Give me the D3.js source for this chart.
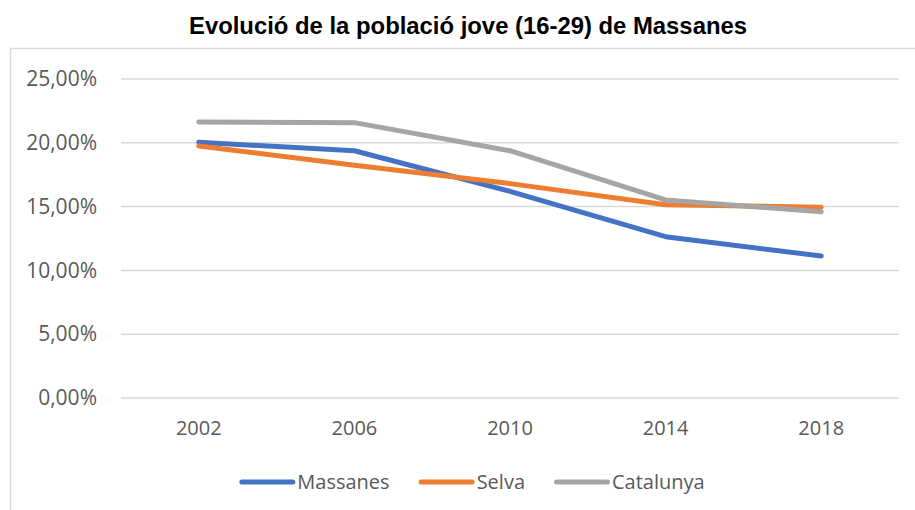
<!DOCTYPE html>
<meta charset="utf-8">
<style>
  body { margin: 0; background: #fff; }
  text { font-family: "Open Sans", "Liberation Sans", sans-serif; fill: #595959; }
</style>
<svg width="915" height="510"></svg>
<script src="https://cdn.jsdelivr.net/npm/d3@7"></script>
<script>

// data
var years = ["2002", "2006", "2010", "2014", "2018"];
var massanes = [20.04, 19.38, 16.2, 12.64, 11.13];
var selva = [19.75, 18.24, 16.8, 15.14, 14.95];
var catalunya = [21.63, 21.58, 19.38, 15.52, 14.6];
var yTicks = [0, 5, 10, 15, 20, 25];
var seriesNames = ["Massanes", "Selva", "Catalunya"];
var colors = ["#4472C4", "#ED7D31", "#A5A5A5"];

var series = [massanes, selva, catalunya].map(function(v, i) {
  return { name: seriesNames[i], values: v, color: colors[i] };
});

var svg = d3.select("svg"), width = +svg.attr("width"), height = +svg.attr("height");

// outer chart frame (runs off the right/bottom edge)
svg.append("rect")
  .attr("x", 10.5).attr("y", 48.5)
  .attr("width", 925).attr("height", 480)
  .attr("fill", "none").attr("stroke", "#d9d9d9").attr("stroke-width", 1.5);

svg.append("text")
  .attr("x", 468).attr("y", 34)
  .attr("text-anchor", "middle")
  .attr("textLength", 558).attr("lengthAdjust", "spacingAndGlyphs")
  .style("font-family", "'Liberation Sans', Arial, sans-serif")
  .style("font-weight", "bold").style("font-size", "24px").style("fill", "#000")
  .text("Evolució de la població jove (16-29) de Massanes");

var x = d3.scaleBand().domain(years).range([121, 899]);
var y = d3.scaleLinear().domain([0, 25]).range([398, 79]);

// gridlines
svg.append("g")
  .selectAll("line")
  .data(yTicks)
  .enter().append("line")
    .attr("x1", x.range()[0]).attr("x2", x.range()[1])
    .attr("y1", function(d) { return y(d); }).attr("y2", function(d) { return y(d); })
    .attr("stroke", "#d9d9d9").attr("stroke-width", 1.5);

var fmt = function(d) { return d.toFixed(2).replace(".", ",") + "%"; };

var yAxis = svg.append("g")
  .attr("transform", "translate(101,0)")
  .call(d3.axisLeft(y).tickValues(yTicks).tickSize(0).tickPadding(4).tickFormat(fmt));
yAxis.select(".domain").remove();
yAxis.selectAll("text").style("font-size", "21px").style("fill", "#595959");

var xAxis = svg.append("g")
  .attr("transform", "translate(0,417)")
  .call(d3.axisBottom(x).tickSize(0).tickPadding(4));
xAxis.select(".domain").remove();
xAxis.selectAll("text").style("font-size", "20px").style("fill", "#595959");

var line = d3.line()
  .x(function(d, i) { return x(years[i]) + x.bandwidth() / 2; })
  .y(function(d) { return y(d); });

svg.append("g")
  .selectAll("path")
  .data(series)
  .enter().append("path")
    .attr("d", function(d) { return line(d.values); })
    .attr("fill", "none")
    .attr("stroke", function(d) { return d.color; })
    .attr("stroke-width", 5)
    .attr("stroke-linecap", "round")
    .attr("stroke-linejoin", "round");

// legend, centred under the frame
var legend = svg.append("g");
var lx = 0;
series.forEach(function(s, i) {
  var g = legend.append("g").attr("transform", "translate(" + lx + ",0)");
  g.append("line").attr("x1", 2.5).attr("x2", 53.5).attr("y1", 0).attr("y2", 0)
    .attr("stroke", s.color).attr("stroke-width", 5).attr("stroke-linecap", "round");
  var t = g.append("text").attr("x", 58).attr("y", 0).attr("dy", "0.35em")
    .style("font-size", "20px").text(s.name);
  lx += 58 + t.node().getComputedTextLength() + 29;
});
lx -= 29;
legend.attr("transform", "translate(" + (472 - lx / 2) + ",482)");

</script>
